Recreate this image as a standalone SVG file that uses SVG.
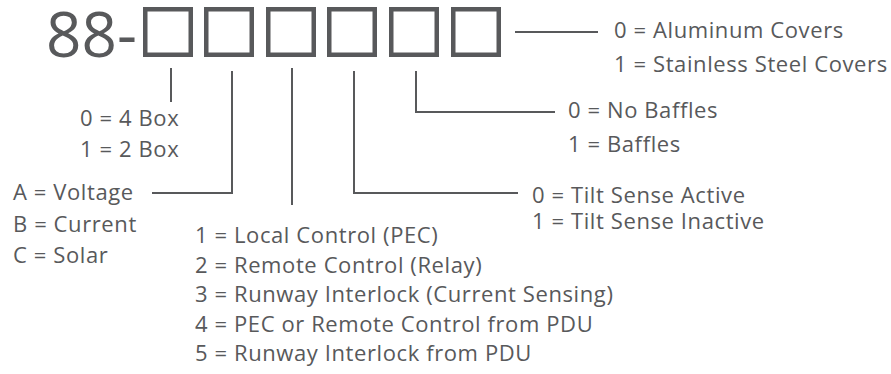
<svg xmlns="http://www.w3.org/2000/svg" width="891" height="374" viewBox="0 0 891 374">
<style>
.t{font-family:"Open Sans","Liberation Sans",sans-serif;font-size:22px;letter-spacing:0.6px;fill:#58595b}
.big{font-family:"Open Sans","Liberation Sans",sans-serif;font-size:62px;fill:#58595b}
.box{fill:none;stroke:#58595b;stroke-width:4.5}
.c{fill:none;stroke:#58595b;stroke-width:2}
</style>
<rect width="891" height="374" fill="#ffffff"/>
<g id="code">
<text class="big" x="46" y="57">88-</text>
<rect class="box" x="145.25" y="9.25" width="45.5" height="45.5"/>
<rect class="box" x="206.25" y="9.25" width="45.5" height="45.5"/>
<rect class="box" x="268.25" y="9.25" width="45.5" height="45.5"/>
<rect class="box" x="329.25" y="9.25" width="45.5" height="45.5"/>
<rect class="box" x="391.25" y="9.25" width="45.5" height="45.5"/>
<rect class="box" x="453.25" y="9.25" width="45.5" height="45.5"/>
</g>
<g id="connectors">
<path class="c" d="M171 68V102"/>
<path class="c" d="M232 71V193H152"/>
<path class="c" d="M292 68V205"/>
<path class="c" d="M354 71V193H518"/>
<path class="c" d="M416 71V112H555"/>
<path class="c" d="M515 32H598"/>
</g>
<g id="covers">
<text class="t" x="614" y="38">0 = Aluminum Covers</text>
<text class="t" x="614" y="72">1 = Stainless Steel Covers</text>
</g>
<g id="baffles">
<text class="t" x="568" y="118">0 = No Baffles</text>
<text class="t" x="568" y="152">1 = Baffles</text>
</g>
<g id="tilt">
<text class="t" x="532" y="203">0 = Tilt Sense Active</text>
<text class="t" x="532" y="229">1 = Tilt Sense Inactive</text>
</g>
<g id="boxes">
<text class="t" x="80" y="126">0 = 4 Box</text>
<text class="t" x="80" y="157">1 = 2 Box</text>
</g>
<g id="sensing">
<text class="t" x="13" y="200">A = Voltage</text>
<text class="t" x="13" y="232">B = Current</text>
<text class="t" x="13" y="263">C = Solar</text>
</g>
<g id="control">
<text class="t" x="195" y="243">1 = Local Control (PEC)</text>
<text class="t" x="195" y="272.5">2 = Remote Control (Relay)</text>
<text class="t" x="195" y="302">3 = Runway Interlock (Current Sensing)</text>
<text class="t" x="195" y="331.5">4 = PEC or Remote Control from PDU</text>
<text class="t" x="195" y="361">5 = Runway Interlock from PDU</text>
</g>
</svg>
